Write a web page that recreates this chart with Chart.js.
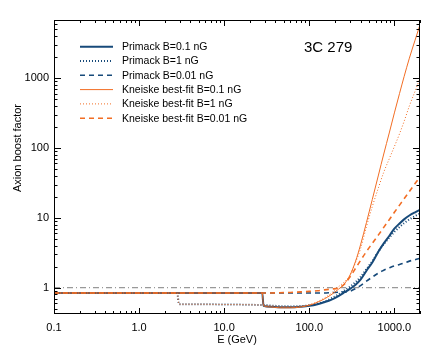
<!DOCTYPE html>
<html><head><meta charset="utf-8">
<script src="https://cdn.jsdelivr.net/npm/chart.js@4.4.0/dist/chart.umd.min.js"></script>
<style>html,body{margin:0;padding:0;background:#fff;}#wrap{width:436px;height:354px;position:relative;}</style>
</head><body><div id="wrap"><canvas id="c" width="436" height="354"></canvas></div>
<script>
// ---- data ----
const energies =      [0.1, 2.8, 2.95, 5, 10, 20, 28, 29, 35, 45, 60, 80, 100, 125, 150, 180, 220, 260, 300, 350, 400, 470, 550, 650, 750, 870, 1000, 1150, 1300, 1500, 1750, 2000];
const primack01 =     [0.84, 0.84, 0.84, 0.84, 0.84, 0.84, 0.84, 0.55, 0.535, 0.525, 0.525, 0.535, 0.55, 0.58, 0.62, 0.67, 0.76, 0.86, 0.96, 1.1, 1.3, 1.75, 2.3, 3.3, 4.3, 5.5, 7.0, 8.3, 9.5, 10.8, 12.0, 13.0];
const primack1 =      [0.84, 0.84, 0.58, 0.58, 0.575, 0.57, 0.565, 0.565, 0.555, 0.545, 0.54, 0.545, 0.56, 0.59, 0.63, 0.7, 0.8, 0.92, 1.03, 1.2, 1.42, 1.85, 2.4, 3.3, 4.2, 5.2, 6.3, 7.4, 8.4, 9.5, 10.6, 11.5];
const primack001 =    [0.84, 0.84, 0.84, 0.84, 0.84, 0.84, 0.84, 0.84, 0.84, 0.84, 0.84, 0.84, 0.84, 0.84, 0.84, 0.85, 0.86, 0.87, 0.89, 0.97, 1.07, 1.24, 1.42, 1.62, 1.78, 1.92, 2.05, 2.15, 2.25, 2.4, 2.52, 2.65];
const kneiske01 =     [0.84, 0.84, 0.84, 0.84, 0.84, 0.84, 0.84, 0.55, 0.53, 0.515, 0.515, 0.53, 0.56, 0.62, 0.69, 0.79, 0.95, 1.15, 1.5, 2.4, 4.1, 8.6, 18.3, 41, 82, 164, 318, 605, 1050, 1930, 3500, 5800];
const kneiske1 =      [0.84, 0.84, 0.58, 0.58, 0.575, 0.57, 0.565, 0.565, 0.55, 0.54, 0.535, 0.545, 0.57, 0.63, 0.71, 0.83, 1.03, 1.22, 1.5, 2.3, 3.6, 7.5, 14.5, 27, 45, 70, 105, 160, 240, 400, 650, 1000];
const kneiske001 =    [0.84, 0.84, 0.84, 0.84, 0.84, 0.84, 0.84, 0.84, 0.84, 0.845, 0.855, 0.87, 0.885, 0.905, 0.93, 0.955, 0.99, 1.13, 1.42, 1.9, 2.45, 3.3, 4.3, 5.7, 7.3, 9.4, 12, 15.2, 18.7, 23.8, 31, 38.5];
const unity =         [1, 1];
const unityE =        [0.1, 2000];
const seriesNames = ['Primack B=0.1 nG','Primack B=1 nG','Primack B=0.01 nG','Kneiske best-fit B=0.1 nG','Kneiske best-fit B=1 nG','Kneiske best-fit B=0.01 nG'];
const xTickValues = [0.1, 1, 10, 100, 1000];
const xTickLabels = ['0.1','1.0','10.0','100.0','1000.0'];
const yTickValues = [1, 10, 100, 1000];
const yTickLabels = ['1','10','100','1000'];
const sourceLabel = '3C 279';
const xTitle = 'E (GeV)';
const yTitle = 'Axion boost factor';

const BLUE = '#174a7a', ORANGE = '#f26d23', GREY = '#999999';
const FONT = '"Liberation Sans", Arial, sans-serif';
const pts = (ys, xs) => ys.map((y,i)=>({x:(xs||energies)[i], y}));

const styles = [
  {c:BLUE, w:2, d:[]},
  {c:BLUE, w:2, d:[1,2]},
  {c:BLUE, w:1.6, d:[5,4]},
  {c:ORANGE, w:1, d:[]},
  {c:ORANGE, w:1, d:[1,2]},
  {c:ORANGE, w:1.6, d:[5,4]},
];
const seriesData = [primack01, primack1, primack001, kneiske01, kneiske1, kneiske001];
const datasets = seriesData.map((s,i)=>({
  label: seriesNames[i], data: pts(s), borderColor: styles[i].c, borderWidth: styles[i].w,
  borderDash: styles[i].d, pointRadius:0, cubicInterpolationMode:'monotone', fill:false, order: i<3 ? 1 : 0
}));
datasets.push({label:'unity', data: pts(unity, unityE), borderColor: GREY, borderWidth:1.2, borderDash:[6,3,1,3], pointRadius:0, order:2});

const framePlugin = {
  id:'frame',
  afterDraw(chart){
    const {ctx, chartArea:a, scales:{x, y}} = chart;
    ctx.save();
    ctx.strokeStyle = '#000'; ctx.lineWidth = 1;
    ctx.strokeRect(a.left+0.5, a.top+0.5, a.right-a.left-1, a.bottom-a.top-1);
    ctx.beginPath();
    for (let e=-1; e<=3; e++){
      for (let k=1;k<=9;k++){
        const v = k*Math.pow(10,e);
        if (v < x.min*0.999 || v > x.max*1.001) continue;
        const px = Math.round(x.getPixelForValue(v))+0.5;
        const L = k===1 ? 6 : 3;
        ctx.moveTo(px, a.bottom); ctx.lineTo(px, a.bottom-L);
        ctx.moveTo(px, a.top); ctx.lineTo(px, a.top+L);
      }
    }
    for (let e=-1; e<=3; e++){
      for (let k=1;k<=9;k++){
        const v = k*Math.pow(10,e);
        if (v < y.min*0.999 || v > y.max*1.001) continue;
        const py = Math.round(y.getPixelForValue(v))+0.5;
        const L = k===1 ? 7 : 3.5;
        ctx.moveTo(a.left, py); ctx.lineTo(a.left+L, py);
        ctx.moveTo(a.right, py); ctx.lineTo(a.right-L, py);
      }
    }
    ctx.stroke();
    ctx.fillStyle = '#000';
    ctx.font = '11px '+FONT;
    ctx.textAlign = 'center'; ctx.textBaseline = 'middle';
    ctx.fillText(xTitle, (a.left+a.right)/2, 340);
    ctx.save();
    ctx.translate(18, 148); ctx.rotate(-Math.PI/2);
    ctx.fillText(yTitle, 0, 0);
    ctx.restore();
    ctx.font = '15px '+FONT;
    ctx.textAlign = 'left';
    ctx.fillText(sourceLabel, 304, 48);
    ctx.font = '10.5px '+FONT;
    seriesNames.forEach((n,i)=>{
      const yy = 46.7 + 14.3*i;
      ctx.save();
      ctx.strokeStyle = styles[i].c; ctx.lineWidth = styles[i].w; ctx.setLineDash(styles[i].d);
      ctx.beginPath(); ctx.moveTo(80, yy); ctx.lineTo(113, yy); ctx.stroke();
      ctx.restore();
      ctx.fillStyle = '#000';
      ctx.fillText(n, 122, yy+0.5);
    });
    ctx.restore();
  }
};

new Chart(document.getElementById('c'), {
  type:'line',
  data:{datasets},
  options:{
    responsive:false, animation:false, devicePixelRatio:1,
    layout:{padding:{top:20, right:16, left:0, bottom:0}},
    plugins:{legend:{display:false}, tooltip:{enabled:false}},
    scales:{
      x:{type:'logarithmic', min:0.1, max:2000,
        grid:{display:false, drawTicks:false}, border:{display:false},
        afterFit(s){ s.height = 40; },
        afterBuildTicks(s){ s.ticks = xTickValues.map(v=>({value:v})); },
        ticks:{autoSkip:false, maxRotation:0, padding:7, color:'#000', font:{family:FONT, size:11},
          callback:(v)=>{ const i = xTickValues.findIndex(t=>Math.abs(t-v)/t<1e-6); return i>=0 ? xTickLabels[i] : ''; }}
      },
      y:{type:'logarithmic', min:0.42, max:6800,
        grid:{display:false, drawTicks:false}, border:{display:false},
        afterFit(s){ s.width = 54; },
        afterBuildTicks(s){ s.ticks = yTickValues.map(v=>({value:v})); },
        ticks:{autoSkip:false, padding:5, color:'#000', font:{family:FONT, size:11},
          callback:(v)=>{ const i = yTickValues.findIndex(t=>Math.abs(t-v)/t<1e-6); return i>=0 ? yTickLabels[i] : ''; }}
      }
    }
  },
  plugins:[framePlugin]
});
</script></body></html>
